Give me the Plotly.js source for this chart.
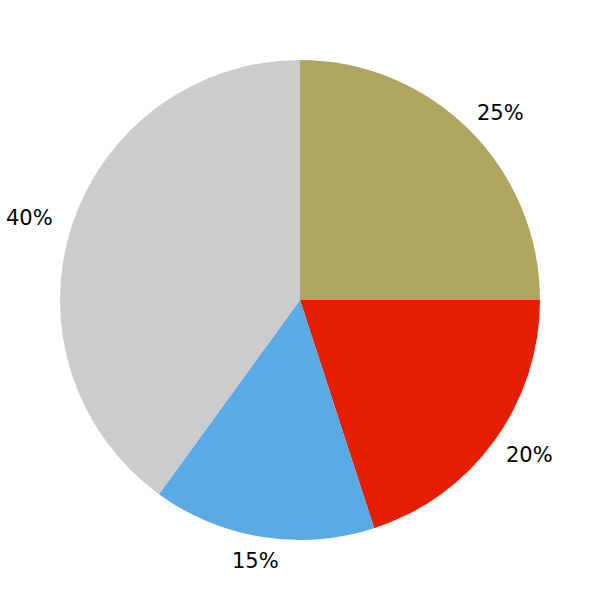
<!DOCTYPE html>
<html>
<head>
<meta charset="utf-8">
<script src="https://cdn.plot.ly/plotly-3.0.1.min.js"></script>
<style>html,body{margin:0;padding:0;background:#fff;}#chart{width:600px;height:600px;}</style>
</head>
<body>
<div id="chart"></div>
<script>
const labels = ["A", "B", "C", "D"];
const values = [25, 20, 15, 40];
const colors = ["#B0A55F", "#E61E00", "#5AAAE6", "#CCCCCC"];

const trace = {
  type: "pie",
  labels: labels,
  values: values,
  sort: false,
  direction: "clockwise",
  rotation: 0,
  marker: {colors: colors, line: {width: 0}},
  textinfo: "none",
  automargin: false,
  hoverinfo: "none"
};

// percentage labels placed around the pie at each slice's mid-angle
const total = values.reduce((a, b) => a + b, 0);
const annotations = [];
let cum = 0;
const plotPx = 480;
values.forEach((v) => {
  const mid = (cum + v / 2) / total * 2 * Math.PI;
  cum += v;
  const s = Math.sin(mid), c = Math.cos(mid);
  annotations.push({
    xref: "paper", yref: "paper",
    x: 0.5 + 284 * s / plotPx,
    y: 0.5 + 264 * c / plotPx,
    xanchor: "center", yanchor: "middle",
    text: Math.round(v / total * 100) + "%",
    showarrow: false,
    font: {family: "DejaVu Sans", size: 21, color: "#000"}
  });
});

const layout = {
  width: 600, height: 600,
  margin: {l: 60, r: 60, t: 60, b: 60},
  showlegend: false,
  paper_bgcolor: "#fff",
  font: {family: "DejaVu Sans", size: 21, color: "#000"},
  annotations: annotations
};
Plotly.newPlot("chart", [trace], layout, {staticPlot: true});
</script>
</body>
</html>
